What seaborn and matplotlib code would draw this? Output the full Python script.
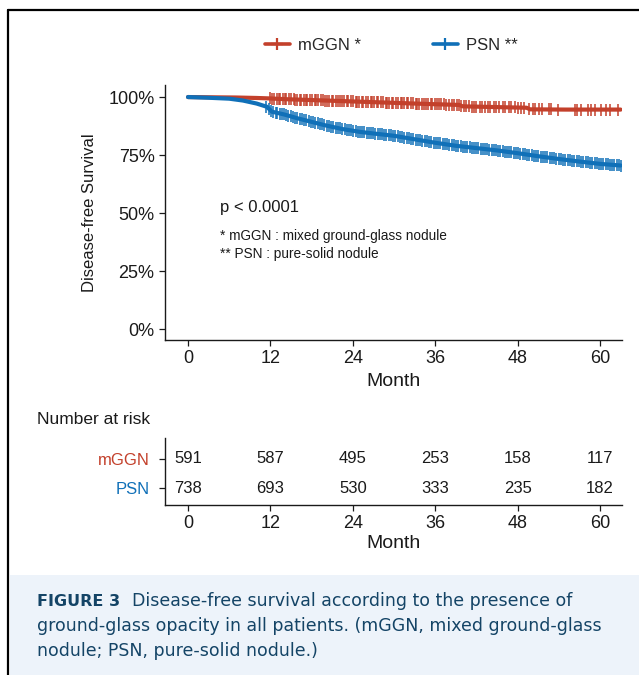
import matplotlib
matplotlib.use('AGG')
import matplotlib.pyplot as plt
from matplotlib.lines import Line2D
from matplotlib.patches import Rectangle
import seaborn as sns
import numpy as np
import pandas as pd

# survival curve points (month, survival)
mggn_time = [0, 3, 7, 10, 12, 14, 17, 20, 23, 26, 29, 32, 35, 39.5, 40, 43, 46, 49.3, 49.8, 55, 63]
mggn_surv = [1.0, 0.999, 0.998, 0.996, 0.994, 0.991, 0.988, 0.985, 0.982, 0.979, 0.976, 0.973, 0.970,
             0.966, 0.960, 0.958, 0.956, 0.954, 0.947, 0.946, 0.946]

psn_time = [0, 3, 6, 8, 10, 11.5, 12.2, 14, 16, 18, 20, 22.5, 25, 27, 30, 33, 36, 39, 42, 45, 48, 51,
            54, 57, 60, 63]
psn_surv = [1.0, 0.997, 0.993, 0.985, 0.972, 0.958, 0.937, 0.925, 0.908, 0.893, 0.878, 0.862, 0.850,
            0.843, 0.833, 0.818, 0.803, 0.790, 0.780, 0.770, 0.758, 0.745, 0.733, 0.722, 0.712, 0.705]

# censoring times (months)
mggn_cens = [12.0, 12.3, 12.5, 12.9, 13.2, 13.4, 13.8, 14.1, 14.3, 14.7, 15.0, 15.4, 15.6, 15.9,
             16.3, 16.5, 16.9, 17.2, 17.4, 17.8, 18.1, 18.5, 18.7, 19.0, 19.4, 19.6, 20.0, 20.3,
             20.6, 20.9, 21.1, 21.5, 21.8, 22.2, 22.4, 22.7, 23.1, 23.3, 23.7, 24.0, 24.4, 24.6,
             24.9, 25.3, 25.5, 25.9, 26.2, 26.6, 26.8, 27.1, 27.5, 27.7, 28.1, 28.4, 28.8, 29.0,
             29.3, 29.7, 29.9, 30.3, 30.6, 31.0, 31.2, 31.5, 31.9, 32.1, 32.5, 32.8, 33.2, 33.4,
             33.7, 34.1, 34.3, 34.7, 35.0, 35.4, 35.6, 35.9, 36.3, 36.6, 36.9, 37.3, 37.6, 38.0,
             38.4, 38.7, 39.1, 39.4, 39.8, 40.2, 40.5, 40.9, 41.3, 41.6, 42.0, 42.5, 42.8, 43.2,
             43.7, 44.0, 44.5, 44.9, 45.3, 45.8, 46.2, 46.7, 47.1, 47.6, 48.1, 48.5, 49.0,
             49.7, 50.2, 50.6, 51.1, 51.5, 52.5, 52.9, 53.9, 56.3, 56.7, 57.2, 58.2, 58.7, 59.2,
             60.2, 60.8, 61.5, 62.6]
psn_cens = [11.4, 11.8, 12.1, 12.4, 12.8, 13.0, 13.4, 13.7, 14.0, 14.3, 14.6, 15.0, 15.3, 15.6,
            15.9, 16.3, 16.6, 16.9, 17.2, 17.6, 17.9, 18.2, 18.5, 18.9, 19.2, 19.5, 19.8, 20.2,
            20.5, 20.8, 21.1, 21.5, 21.8, 22.1, 22.4, 22.8, 23.1, 23.4, 23.7, 24.1, 24.4, 24.7,
            25.0, 25.4, 25.7, 26.0, 26.3, 26.7, 27.0, 27.3, 27.6, 28.0, 28.3, 28.6, 28.9, 29.3,
            29.6, 29.9, 30.2, 30.6, 30.9, 31.2, 31.5, 31.9, 32.2, 32.5, 32.8, 33.2, 33.5, 33.8,
            34.1, 34.5, 34.8, 35.1, 35.4, 35.8, 36.1, 36.4, 36.7, 37.1, 37.4, 37.7, 38.0, 38.4,
            38.7, 39.0, 39.3, 39.7, 40.0, 40.3, 40.6, 41.0, 41.3, 41.6, 41.9, 42.3, 42.6, 42.9,
            43.2, 43.6, 43.9, 44.2, 44.5, 44.9, 45.2, 45.5, 45.8, 46.2, 46.5, 46.8, 47.1, 47.5,
            47.8, 48.1, 48.4, 48.8, 49.1, 49.4, 49.7, 50.1, 50.4, 50.7, 51.0, 51.4, 51.7, 52.0,
            52.3, 52.7, 53.0, 53.3, 53.6, 54.0, 54.3, 54.6, 54.9, 55.3, 55.6, 55.9, 56.2, 56.6,
            56.9, 57.2, 57.5, 57.9, 58.2, 58.5, 58.8, 59.2, 59.5, 59.8, 60.1, 60.5, 60.8, 61.1,
            61.4, 61.8, 62.1, 62.4, 62.7, 63.0]

month_ticks = [0, 12, 24, 36, 48, 60]
surv_ticks = [0, 0.25, 0.5, 0.75, 1.0]
surv_labels = ["0%", "25%", "50%", "75%", "100%"]
groups = ["mGGN", "PSN"]
risk_mggn = [591, 587, 495, 253, 158, 117]
risk_psn = [738, 693, 530, 333, 235, 182]

RED = "#C3402B"
BLUE = "#1070B8"
INK = "#1a1a1a"
CAP = "#144466"

sns.set_theme(style="ticks")
plt.rcParams['font.family'] = ['Liberation Sans', 'DejaVu Sans']

fig = plt.figure(figsize=(6.39, 6.75), dpi=100)
fig.patch.set_facecolor("white")

ax = fig.add_axes([0.2582, 0.4963, 0.7152, 0.3778])
ax2 = fig.add_axes([0.2582, 0.2519, 0.7152, 0.0993])

curves = pd.concat([
    pd.DataFrame({"month": mggn_time, "surv": mggn_surv, "group": "mGGN"}),
    pd.DataFrame({"month": psn_time, "surv": psn_surv, "group": "PSN"}),
])
sns.lineplot(data=curves, x="month", y="surv", hue="group", palette=[RED, BLUE],
             estimator=None, sort=False, linewidth=3.0, legend=False, ax=ax)

for t, s, c, col in [(mggn_time, mggn_surv, mggn_cens, RED), (psn_time, psn_surv, psn_cens, BLUE)]:
    ys = np.interp(c, t, s)
    ax.plot(c, ys, linestyle="none", marker="|", markersize=8, markeredgewidth=1.1, color=col)

ax.set_xlim(-3.35, 63.2)
ax.set_ylim(-0.047, 1.052)
ax.set_xticks(month_ticks)
ax.set_xticklabels([str(m) for m in month_ticks])
ax.set_yticks(surv_ticks)
ax.set_yticklabels(surv_labels)
ax.set_xlabel("Month", fontsize=14, color=INK, labelpad=4)
ax.set_ylabel("Disease-free Survival", fontsize=12, color=INK, labelpad=8)
ax.tick_params(labelsize=13, colors=INK, length=4, width=0.9)
for sp in ["left", "bottom"]:
    ax.spines[sp].set_color(INK)
    ax.spines[sp].set_linewidth(1.0)
sns.despine(ax=ax)

ax.text(0.12, 0.52, "p < 0.0001", transform=ax.transAxes, fontsize=12, color=INK, va="center")
ax.text(0.12, 0.408, "* mGGN : mixed ground-glass nodule", transform=ax.transAxes,
        fontsize=9.8, color=INK, va="center")
ax.text(0.12, 0.337, "** PSN : pure-solid nodule", transform=ax.transAxes,
        fontsize=9.8, color=INK, va="center")

handles = [Line2D([], [], color=RED, lw=2.6, marker="+", markersize=9, markeredgewidth=1.6),
           Line2D([], [], color=BLUE, lw=2.6, marker="+", markersize=9, markeredgewidth=1.6)]
fig.legend(handles, ["mGGN *", "PSN **"], loc="center", bbox_to_anchor=(0.612, 0.933), ncol=2,
           frameon=False, fontsize=12, handlelength=1.5, handletextpad=0.5, columnspacing=4.3)

# risk table
for row, vals in [(1, risk_mggn), (0, risk_psn)]:
    for m, v in zip(month_ticks, vals):
        ax2.text(m, row, str(v), ha="center", va="center", fontsize=12, color=INK)
ax2.set_xlim(-3.35, 63.2)
ax2.set_ylim(-0.57, 1.7)
ax2.set_yticks([1, 0])
ax2.set_yticklabels(groups, fontsize=12)
for lab, col in zip(ax2.get_yticklabels(), [RED, BLUE]):
    lab.set_color(col)
ax2.set_xticks(month_ticks)
ax2.set_xticklabels([str(m) for m in month_ticks])
ax2.tick_params(axis="x", labelsize=13, colors=INK, length=4, width=0.9)
ax2.tick_params(axis="y", length=4, width=0.9, color=INK, pad=7)
ax2.set_xlabel("Month", fontsize=14, color=INK, labelpad=2)
for sp in ["left", "bottom"]:
    ax2.spines[sp].set_color(INK)
    ax2.spines[sp].set_linewidth(1.0)
sns.despine(ax=ax2)
fig.text(37 / 639, 1 - 420 / 675, "Number at risk", fontsize=12.5, color=INK, va="center")

# frame and caption box
fig.add_artist(Line2D([8 / 639, 8 / 639], [0, 1 - 10 / 675], color="black", lw=1.6))
fig.add_artist(Line2D([8 / 639, 1], [1 - 10 / 675, 1 - 10 / 675], color="black", lw=1.6))
fig.add_artist(Rectangle((10 / 639, 0), 1, 1 - 575 / 675, facecolor="#EDF3FA", edgecolor="none"))
fig.text(37 / 639, 1 - 601 / 675, "FIGURE 3", fontsize=11.5, fontweight="heavy", color=CAP,
         va="center", family=["DejaVu Sans"])
fig.text(132 / 639, 1 - 601 / 675, "Disease-free survival according to the presence of",
         fontsize=12.5, color=CAP, va="center", family=["DejaVu Sans"])
fig.text(37 / 639, 1 - 626 / 675, "ground-glass opacity in all patients. (mGGN, mixed ground-glass",
         fontsize=12.5, color=CAP, va="center", family=["DejaVu Sans"])
fig.text(37 / 639, 1 - 651 / 675, "nodule; PSN, pure-solid nodule.)",
         fontsize=12.5, color=CAP, va="center", family=["DejaVu Sans"])

fig.savefig("out.png", dpi=100)
